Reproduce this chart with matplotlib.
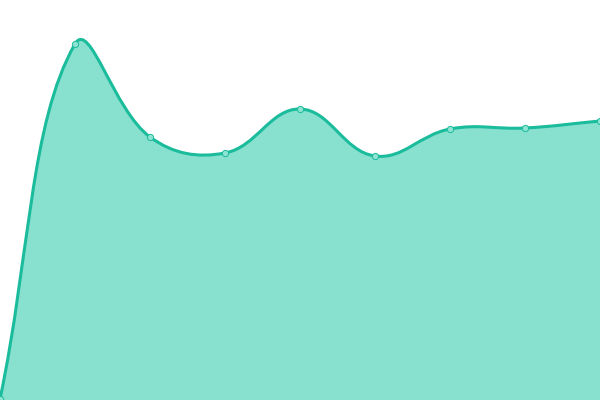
import matplotlib
matplotlib.use("Agg")
import matplotlib.pyplot as plt
import numpy as np
from matplotlib.path import Path
from matplotlib.patches import PathPatch

## Data
x_vals = [0, 75, 150, 225, 300, 375, 450, 525, 600]
y_vals = [1, 356, 263, 247, 291, 244, 271, 272, 279]

line_color = '#1abc9c'
fill_color = '#88e0cf'
marker_face = '#8fe3d2'
tension = 0.4


def spline_path(xs, ys, t):
    # bezier control points weighted by neighbour distances
    pts = np.column_stack([xs, ys]).astype(float)
    n = len(pts)
    before = []
    after = []
    for i in range(n):
        prev = pts[max(i - 1, 0)]
        cur = pts[i]
        nxt = pts[min(i + 1, n - 1)]
        d01 = np.hypot(*(cur - prev))
        d12 = np.hypot(*(nxt - cur))
        tot = d01 + d12
        fa = t * d01 / tot if tot else 0
        fb = t * d12 / tot if tot else 0
        before.append(cur - fa * (nxt - prev))
        after.append(cur + fb * (nxt - prev))
    verts = [pts[0]]
    codes = [Path.MOVETO]
    for i in range(n - 1):
        verts += [after[i], before[i + 1], pts[i + 1]]
        codes += [Path.CURVE4] * 3
    return verts, codes


fig = plt.figure(figsize=(6, 4), dpi=100)
ax = fig.add_axes([0, 0, 1, 1])
ax.set_xlim(0, 600)
ax.set_ylim(0, 400)
ax.axis('off')

verts, codes = spline_path(x_vals, y_vals, tension)

# area under the curve
area_verts = verts + [(x_vals[-1], 0), (x_vals[0], 0), verts[0]]
area_codes = codes + [Path.LINETO, Path.LINETO, Path.CLOSEPOLY]
ax.add_patch(PathPatch(Path(area_verts, area_codes), facecolor=fill_color,
                       edgecolor='none'))

# the line itself
ax.add_patch(PathPatch(Path(verts, codes), facecolor='none',
                       edgecolor=line_color, linewidth=2.2))

ax.plot(x_vals, y_vals, 'o', markersize=4.5, markerfacecolor=marker_face,
        markeredgecolor=line_color, markeredgewidth=0.7)

fig.savefig('out.png', dpi=100)
